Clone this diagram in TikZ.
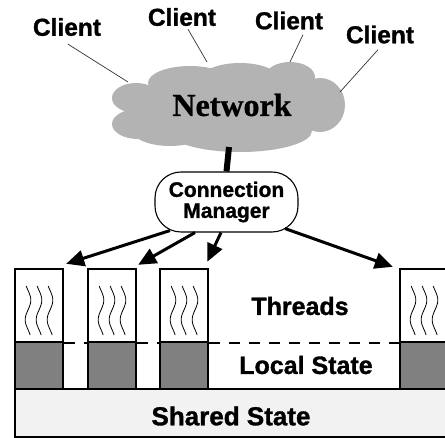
\documentclass[tikz,border=0pt]{standalone}
\usepackage{fontspec}
\setmainfont{Liberation Sans}[BoldFeatures={FakeBold=1.2}]
\newfontfamily\netfont{Liberation Serif}[BoldFeatures={FakeBold=1}]
\usetikzlibrary{arrows.meta,calc}
\definecolor{cloudgray}{HTML}{B3B3B3}
\definecolor{localgray}{HTML}{808080}
\definecolor{sharedgray}{HTML}{F2F2F2}
\begin{document}
\begin{tikzpicture}[x=1pt,y=-1pt,
  clientlbl/.style={inner sep=0pt,font=\bfseries\fontsize{24.5}{26}\selectfont},
  clientline/.style={line width=0.7pt,draw=black!80},
  bigtext/.style={inner sep=0pt,font=\bfseries\fontsize{25}{27}\selectfont},
  upperbox/.style={draw,line width=2.4pt,fill=white,minimum width=48pt,minimum height=73pt,inner sep=0pt},
  lowerbox/.style={draw,line width=2.4pt,fill=localgray,minimum width=48pt,minimum height=47pt,inner sep=0pt},
  wave/.style={line width=0.8pt},
  dashline/.style={line width=2pt,dash pattern=on 11pt off 9pt},
  cmarrow/.style={line width=3pt,-{Triangle[length=18pt,width=16pt]}}
]
\useasboundingbox (0,0) rectangle (445,438);
\clip (0,0) rectangle (445,438);

% cloud
\begin{scope}[fill=cloudgray]
\fill (230,108) ellipse [x radius=95, y radius=38];
\fill (136,98) ellipse [x radius=24, y radius=15];
\fill (138,124) ellipse [x radius=26, y radius=15];
\fill (190,83) ellipse [x radius=42, y radius=17];
\fill (240,80) ellipse [x radius=40, y radius=17];
\fill (290,77) ellipse [x radius=25, y radius=15];
\fill (320,105) ellipse [x radius=25, y radius=27];
\fill (240,131) ellipse [x radius=72, y radius=21];
\fill (170,130) ellipse [x radius=38, y radius=16];
\end{scope}
\node[inner sep=0pt,font=\netfont\bfseries\fontsize{32}{34}\selectfont] (net) at (232,105) {Network};

% clients
\node[clientlbl] (c1) at (67,27) {Client};
\node[clientlbl] (c2) at (182,17) {Client};
\node[clientlbl] (c3) at (289,20.5) {Client};
\node[clientlbl] (c4) at (380,34.5) {Client};
\coordinate (e1) at (128,82);
\coordinate (e2) at (207,62);
\coordinate (e3) at (290,62);
\coordinate (e4) at (340,92);
\draw[clientline] ($(c1.south)+(1,8)$) -- (e1);
\draw[clientline] ($(c2.south)+(6,3)$) -- (e2);
\draw[clientline] ($(c3.south)+(14,5)$) -- (e3);
\draw[clientline] ($(c4.south)+(-2,6)$) -- (e4);

% connection manager
\node[draw,line width=1.1pt,fill=white,rounded corners=26pt,minimum width=143pt,minimum height=60pt,
      inner sep=0pt,align=center,font=\bfseries\fontsize{21}{21}\selectfont] (cm) at (226.5,202) {Connection\\Manager};
\coordinate (cb) at (229,147);
\draw[line width=6pt] (cb) -- (cm.north);

% thread boxes
\foreach \i/\x in {1/39,2/112,3/184,4/424}{
  \node[upperbox] (tu\i) at (\x,305.5) {};
  \node[lowerbox] (ls\i) at (\x,365.5) {};
  \foreach \d in {-11,0,11}{
    \draw[wave] plot[domain=0:1,samples=40,variable=\t] ({\x+\d+2.8*sin(-40+450*\t)},{286+49*\t});
  }
}
\draw[dashline] (tu1.south east) -- (tu2.south west);
\draw[dashline] (tu2.south east) -- (tu3.south west);
\draw[dashline] (tu3.south east) -- (tu4.south west);

\node[bigtext] (thr) at (300,306) {Threads};
\node[bigtext] (loc) at (306,365) {Local State};

% shared state
\node[draw,line width=2.4pt,fill=sharedgray,minimum width=445pt,minimum height=48pt,inner sep=0pt] (ss) at (237.5,413) {};
\node[bigtext,font=\bfseries\fontsize{26}{28}\selectfont] (sst) at (231,416) {Shared State};

% arrows
\draw[cmarrow] ($(cm.south)+(-56.5,-2)$) -- ($(tu1.north east)+(2,-4)$);
\draw[cmarrow] ($(cm.south)+(-31.5,0)$) -- ($(tu2.north east)+(1,-3)$);
\draw[cmarrow] ($(cm.south)+(-5.5,0)$) -- ($(tu3.north east)+(-2,-6)$);
\draw[cmarrow] ($(cm.south)+(58.5,-4)$) -- ($(tu4.north west)+(-6,-1)$);
\end{tikzpicture}
\end{document}
